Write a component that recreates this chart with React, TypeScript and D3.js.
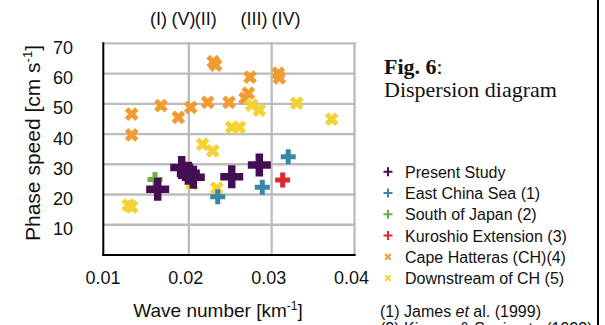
import React from "react";
import * as d3 from "d3";

const presentK = [0.01624, 0.01914, 0.01994, 0.02054, 0.02518, 0.02851];
const presentV = [21.7, 28.9, 27.0, 25.7, 25.9, 29.8];
const ecsK = [0.02349, 0.032, 0.02887];
const ecsV = [19.3, 32.5, 22.4];
const sojK = [0.01592];
const sojV = [25.0];
const keK = [0.03133];
const keV = [24.8];
const chK = [0.0131, 0.0131, 0.01664, 0.01873, 0.02023, 0.02228, 0.02295, 0.02324, 0.02485, 0.02739, 0.02718, 0.02678, 0.0308, 0.03092];
const chV = [46.6, 39.7, 49.4, 45.5, 48.8, 50.5, 63.9, 62.8, 50.5, 58.8, 53.5, 51.8, 60.1, 58.6];
const dsK = [0.02759, 0.02851, 0.03302, 0.03725, 0.02518, 0.02609, 0.02167, 0.02288, 0.01269, 0.0131, 0.02038, 0.02337];
const dsV = [49.6, 47.9, 50.2, 44.9, 42.2, 42.2, 36.6, 34.4, 16.5, 15.9, 23.5, 22.1];

const xTicks = [0.01, 0.02, 0.03, 0.04];
const yTicks = [10, 20, 30, 40, 50, 60, 70];
const modeLabels = ["(I)", "(V)", "(II)", "(III)", "(IV)"];
const modeK = [0.01633, 0.01935, 0.02205, 0.02788, 0.03174];

const legendNames = ["Present Study", "East China Sea (1)", "South of Japan (2)", "Kuroshio Extension (3)", "Cape Hatteras (CH)(4)", "Downstream of CH (5)"];

const C = {
  purple: "#440f52",
  blue: "#3b86a8",
  green: "#6fad45",
  red: "#dc2a2f",
  orange: "#f09c30",
  yellow: "#f3d235",
};

function plusPath(L: number, t: number) {
  const a = L / 2, b = t / 2;
  return `M${-b},${-a}H${b}V${-b}H${a}V${b}H${b}V${a}H${-b}V${b}H${-a}V${-b}H${-b}Z`;
}

export default function App() {
  const W = 605, H = 325;
  const x = d3.scaleLinear().domain([0.01, 0.04]).range([106, 354.5]);
  const y = d3.scaleLinear().domain([0, 70]).range([255, 43.3]);
  const sans = "'Liberation Sans', Arial, sans-serif";
  const serif = "'Liberation Serif', 'Times New Roman', serif";

  const series = [
    { k: chK, v: chV, color: C.orange, path: plusPath(14.5, 5), rot: 45 },
    { k: dsK, v: dsV, color: C.yellow, path: plusPath(14.5, 5), rot: 45 },
    { k: keK, v: keV, color: C.red, path: plusPath(15, 5), rot: 0 },
    { k: sojK, v: sojV, color: C.green, path: plusPath(15, 5), rot: 0 },
    { k: ecsK, v: ecsV, color: C.blue, path: plusPath(15, 5), rot: 0 },
    { k: presentK, v: presentV, color: C.purple, path: plusPath(23, 7.5), rot: 0 },
  ];
  const legendColors = [C.purple, C.blue, C.green, C.red, C.orange, C.yellow];
  const legendRot = [0, 0, 0, 0, 45, 45];

  return (
    <svg width={W} height={H} style={{ position: "absolute", left: 0, top: 0, background: "#fff" }}>
      <rect x={0} y={0} width={W} height={H} fill="#fff" />
      {/* grid */}
      {yTicks.map((t) => (
        <line key={"gy" + t} x1={103} x2={355.6} y1={y(t)} y2={y(t)} stroke="#bcbcbc" strokeWidth={2.3} />
      ))}
      {xTicks.slice(1).map((t) => (
        <line key={"gx" + t} x1={x(t)} x2={x(t)} y1={42.2} y2={255} stroke="#bcbcbc" strokeWidth={2.3} />
      ))}
      {/* axes */}
      <line x1={103.3} x2={103.3} y1={42.2} y2={256} stroke="#000" strokeWidth={2} />
      <line x1={102.3} x2={355.6} y1={255} y2={255} stroke="#000" strokeWidth={2} />

      {/* points */}
      {series.map((s, si) =>
        s.k.map((k, i) => (
          <path
            key={si + "-" + i}
            d={s.path}
            transform={`translate(${x(k)},${y(s.v[i])}) rotate(${s.rot})`}
            fill={s.color}
          />
        ))
      )}

      {/* tick labels */}
      {xTicks.map((t) => (
        <text key={"xt" + t} x={x(t) - 3} y={284} textAnchor="middle" fontFamily={sans} fontSize={18} fill="#111">
          {d3.format(".2f")(t)}
        </text>
      ))}
      {yTicks.map((t) => (
        <text key={"yt" + t} x={73} y={y(t) + 10.5} textAnchor="end" fontFamily={sans} fontSize={18} fill="#111">
          {t}
        </text>
      ))}

      {/* axis titles */}
      <text x={218} y={317} textAnchor="middle" fontFamily={sans} fontSize={19} fill="#111">
        Wave number [km<tspan dy={-7} fontSize={12}>-1</tspan><tspan dy={7}>]</tspan>
      </text>
      <text transform="translate(40,143) rotate(-90)" textAnchor="middle" fontFamily={sans} fontSize={21} fill="#111">
        Phase speed [cm s<tspan dy={-8} fontSize={13}>-1</tspan><tspan dy={8}>]</tspan>
      </text>

      {/* mode labels */}
      {modeLabels.map((m, i) => (
        <text key={m} x={x(modeK[i])} y={25} textAnchor="middle" fontFamily={sans} fontSize={18} fill="#111">
          {m}
        </text>
      ))}

      {/* figure caption */}
      <text x={384} y={74} fontFamily={serif} fontSize={22} fill="#111">
        <tspan fontWeight="bold">Fig. 6</tspan>:
      </text>
      <text x={384} y={97} fontFamily={serif} fontSize={22} fill="#111">
        Dispersion diagram
      </text>

      {/* legend */}
      {legendNames.map((n, i) => {
        const cy = 171.7 + i * 21.3;
        return (
          <g key={n}>
            <path d={plusPath(i >= 4 ? 8 : 9, 2)} transform={`translate(388,${cy}) rotate(${legendRot[i]})`} fill={legendColors[i]} />
            <text x={405} y={cy + 6} fontFamily={sans} fontSize={16} fill="#111">
              {n}
            </text>
          </g>
        );
      })}
      <text x={380} y={317} fontFamily={sans} fontSize={16} fill="#111">
        (1) James <tspan fontStyle="italic">et</tspan> al. (1999)
      </text>
      <text x={380} y={334} fontFamily={sans} fontSize={16} fill="#111">
        (2) Kimura &amp; Sugimoto (1993)
      </text>

      {/* right frame line */}
      <line x1={598} x2={598} y1={0} y2={325} stroke="#000" strokeWidth={2} />
    </svg>
  );
}
